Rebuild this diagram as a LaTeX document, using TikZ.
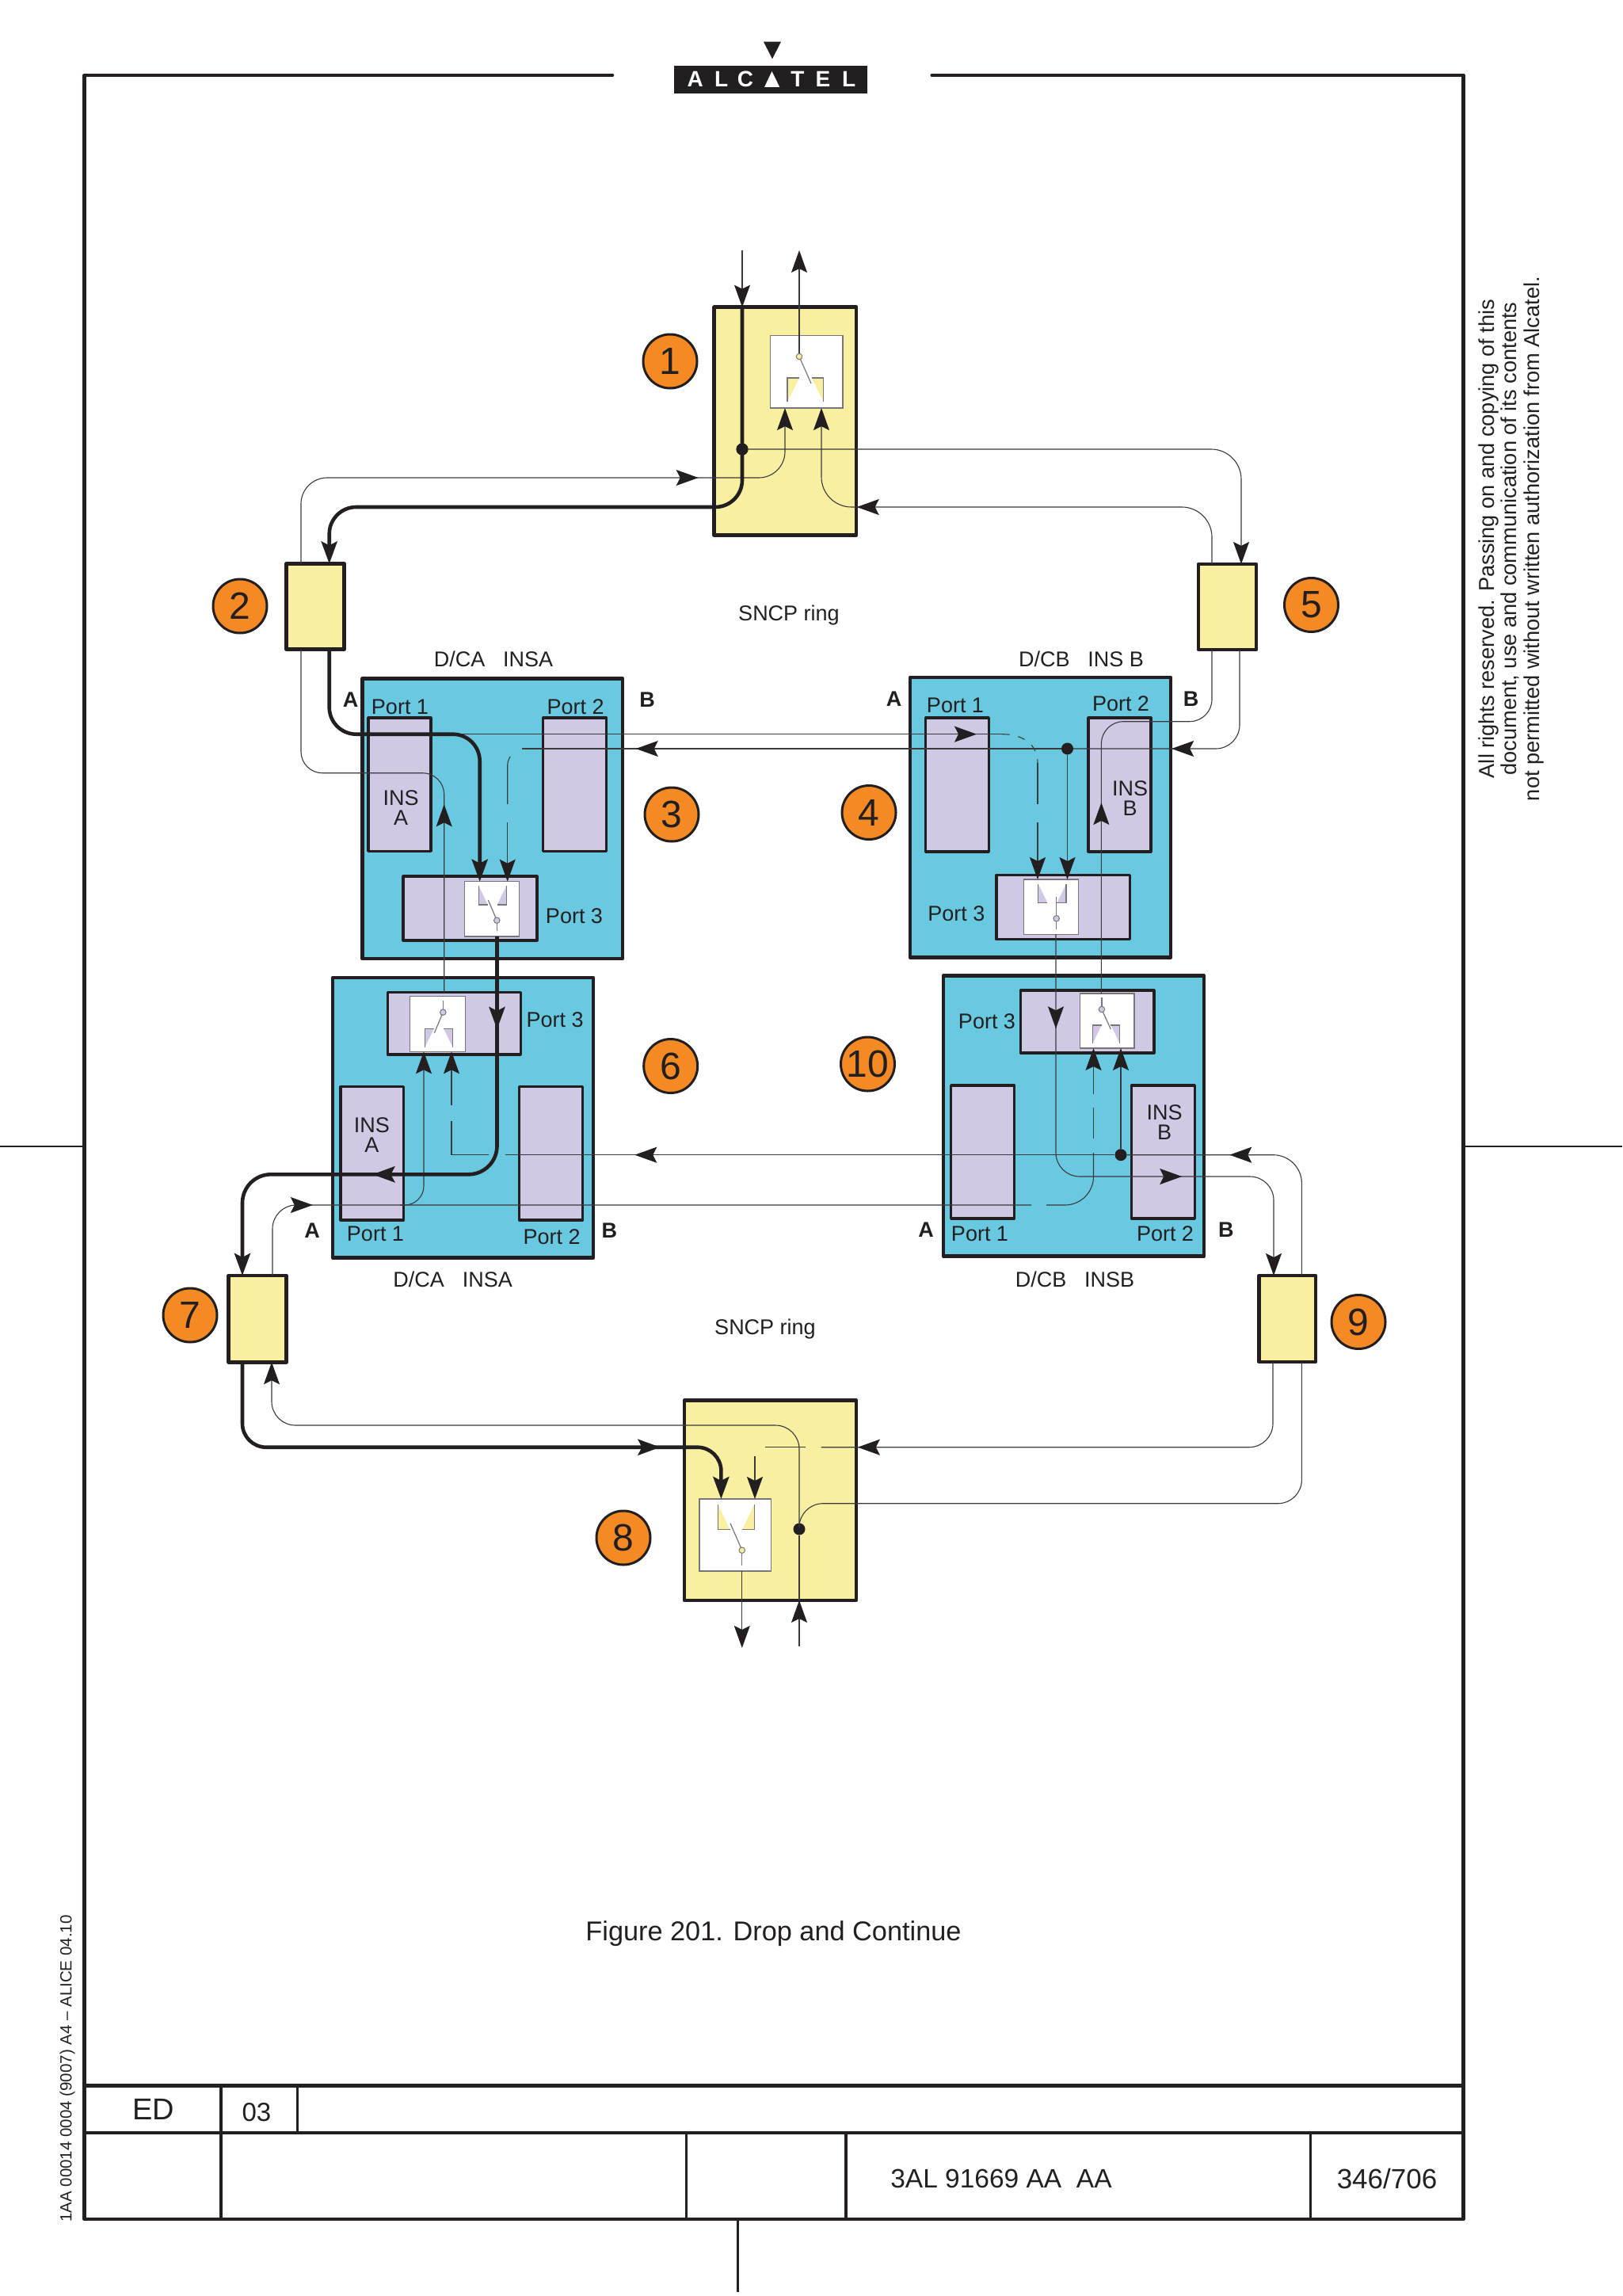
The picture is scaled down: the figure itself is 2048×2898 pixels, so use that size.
\documentclass[tikz,border=0pt]{standalone}
\usepackage{fontspec}
\setmainfont{Liberation Sans}
\usetikzlibrary{arrows.meta,decorations.markings}
\definecolor{ink}{HTML}{231F20}
\definecolor{wirec}{HTML}{3A3A3C}
\definecolor{pale}{HTML}{F8EFA0}
\definecolor{cyanb}{HTML}{68C9E1}
\definecolor{lilac}{HTML}{D0C8E4}
\definecolor{orng}{HTML}{F58A25}
\definecolor{gearg}{HTML}{77777A}
\newcommand\rbox[6]{\node[#1,minimum width=\fpeval{#5-#3}pt,minimum height=\fpeval{#6-#4}pt] (#2) at (\fpeval{(#3+#5)/2},\fpeval{(#4+#6)/2}) {};}
\newcommand\gear[5]{%
  \fill[#5] (#1,#3) -- (#1,#4) -- (\fpeval{#1+0.33*(#2-#1)},#3) -- cycle;
  \fill[#5] (#2,#3) -- (#2,#4) -- (\fpeval{#2-0.33*(#2-#1)},#3) -- cycle;
  \draw[gearline] (#1,#4) -- (#1,#3) -- (\fpeval{#1+0.33*(#2-#1)},#3);
  \draw[gearline] (#2,#4) -- (#2,#3) -- (\fpeval{#2-0.33*(#2-#1)},#3);}
\newcommand\swing[7]{%
  \draw[gearline] (#2,#3) -- (#2,#6);
  \draw[gearline] (#2,#3) -- (#4,#5);
  \node[pivot,fill=#7] (#1) at (#2,#3) {};}
\tikzset{
  >={Stealth[length=28pt,width=20pt,inset=5pt,color=ink]},
  basebox/.style={draw=ink,rectangle,inner sep=0pt,outer sep=0pt,line join=round},
  yelbox/.style={basebox,fill=pale,line width=4.5pt},
  cyanbox/.style={basebox,fill=cyanb,line width=4.5pt},
  portbox/.style={basebox,fill=lilac,line width=3.2pt},
  swbox/.style={rectangle,inner sep=0pt,outer sep=0pt,draw=gearg,fill=white,line width=1.2pt},
  gearline/.style={draw=gearg,line width=1.2pt},
  pivot/.style={circle,draw=gearg,line width=1pt,inner sep=0pt,minimum size=7.5pt},
  wire/.style={draw=wirec,line width=1.1pt},
  heavy/.style={draw=ink,line width=4.6pt},
  gapdash/.style={wire,dash pattern=on 9pt off 11pt},
  jdot/.style={circle,fill=ink,inner sep=0pt,minimum size=15pt},
  badge/.style={circle,draw=ink,fill=orng,line width=3pt,minimum size=68pt,inner sep=0pt,font=\fontsize{48}{48}\selectfont,text=ink},
  lbl/.style={inner sep=0pt,text=ink,yshift=-1.5pt,font=\fontsize{27}{27}\selectfont},
  ins/.style={lbl,align=center,font=\fontsize{27}{25}\selectfont},
  ab/.style={lbl,yshift=1pt,font=\fontsize{27}{27}\selectfont\bfseries},
  logoL/.style={inner sep=0pt,text=white,font=\fontsize{28}{28}\selectfont\bfseries},
  midtip/.style={postaction={decorate,decoration={markings,mark=at position #1 with {\arrow{>}}}}},
  frameline/.style={draw=ink,line width=4.6pt,line cap=round,line join=round},
  tbl/.style={draw=ink,line cap=butt}
}
\begin{document}
\begin{tikzpicture}[x=1pt,y=-1pt]
\useasboundingbox[fill=white] (0,0) rectangle (2048,2898);
% page frame
\draw[frameline] (773,95) -- (106.5,95) -- (106.5,2801) -- (1847.5,2801) -- (1847.5,95) -- (1176.7,95);
\draw[tbl,line width=5pt] (106.5,2632.3) -- (1847.5,2632.3);
\draw[tbl,line width=3.6pt] (106.5,2691.7) -- (1847.5,2691.7);
\draw[tbl,line width=4pt] (279.3,2632.3) -- (279.3,2801);
\draw[tbl,line width=2.6pt] (375.7,2632.3) -- (375.7,2691.7);
\draw[tbl,line width=2.6pt] (866.6,2691.7) -- (866.6,2801);
\draw[tbl,line width=4pt] (1068,2691.7) -- (1068,2801);
\draw[tbl,line width=3pt] (1654,2691.7) -- (1654,2801);
\draw[tbl,line width=2.6pt] (931.4,2801) -- (931.4,2893);
\draw[tbl,line width=2.6pt] (0,1447) -- (106.5,1447);
\draw[tbl,line width=2.6pt] (1847.5,1447) -- (2048,1447);
% logo
\fill[ink] (964,52.7) -- (986,52.7) -- (975,74.3) -- cycle;
\fill[ink] (850.7,82.7) rectangle (1095.3,117.7);
\node[logoL] (lA) at (877.7,100) {A};
\node[logoL] (lL) at (910.7,100) {L};
\node[logoL] (lC) at (941,100) {C};
\fill[white] (965,110) -- (984.3,110) -- (974.5,90) -- cycle;
\node[logoL] (lT) at (1007,100) {T};
\node[logoL] (lE) at (1039,100) {E};
\node[logoL] (lL2) at (1071.7,100) {L};
% boxes
\rbox{yelbox}{b1}{901.7}{387.7}{1081}{675.7}
\rbox{yelbox}{b2}{361.6}{711.5}{434.6}{819.6}
\rbox{yelbox}{b5}{1513}{712}{1586}{820}
\rbox{yelbox}{b7}{288.6}{1610}{361.5}{1719.3}
\rbox{yelbox}{b9}{1589.5}{1610}{1661}{1719}
\rbox{yelbox}{b8}{864}{1767.5}{1081}{2020}
\rbox{cyanbox}{b3}{457.3}{856.7}{786}{1210}
\rbox{cyanbox}{b4}{1149}{855}{1478}{1208.3}
\rbox{cyanbox}{b6}{420}{1234}{749}{1587.3}
\rbox{cyanbox}{b10}{1191}{1231.7}{1520}{1585.7}
\rbox{portbox}{p31}{465}{906}{544}{1074.3}
\rbox{portbox}{p32}{685.7}{906}{765.7}{1074.3}
\rbox{portbox}{p33}{509}{1106}{678}{1187}
\rbox{portbox}{p41}{1168.8}{906}{1248.4}{1075}
\rbox{portbox}{p42}{1374}{906}{1453}{1075}
\rbox{portbox}{p43}{1258}{1104.3}{1426.7}{1185.7}
\rbox{portbox}{p61}{430}{1371.7}{509.7}{1540}
\rbox{portbox}{p62}{655.7}{1371.7}{735.7}{1540}
\rbox{portbox}{p63}{489.3}{1252.3}{657.3}{1331}
\rbox{portbox}{p101}{1200.6}{1370}{1280.6}{1538}
\rbox{portbox}{p102}{1428.4}{1370}{1508.3}{1538}
\rbox{portbox}{p103}{1288.3}{1250}{1457}{1329}
% switches
\rbox{swbox}{s1}{972.7}{423.7}{1064}{515}
\rbox{swbox}{s3}{586.7}{1112.7}{655.7}{1182}
\rbox{swbox}{s4}{1292.8}{1110}{1361.7}{1179.3}
\rbox{swbox}{s6}{517.7}{1257.7}{587.7}{1327.3}
\rbox{swbox}{s10}{1363.3}{1254}{1432}{1323}
\rbox{swbox}{s8}{883}{1892}{973.5}{1983}
\gear{994}{1039.7}{477}{507}{pale}
\gear{604.3}{639.3}{1142}{1118}{lilac}
\gear{1310.8}{1346}{1139.3}{1116}{lilac}
\gear{536.3}{571.7}{1298.3}{1321.7}{lilac}
\gear{1379.4}{1413.8}{1294}{1317}{lilac}
\gear{906.4}{952.3}{1930.7}{1899}{pale}
\swing{pv3}{627.3}{1161.7}{616.3}{1136}{1175}{lilac}
\swing{pv4}{1333.7}{1159.3}{1333.7}{1131.7}{1173}{lilac}
\swing{pv6}{559.3}{1277.7}{548.3}{1304}{1263}{lilac}
\swing{pv10}{1390.9}{1274}{1402.3}{1299}{1259}{lilac}
\swing{pv8}{936.8}{1956.7}{922}{1922.7}{1976}{pale}
\draw[gearline] (1009,450) -- (1024,484);
\node[pivot,fill=pale] (pv1) at (1009,450) {};
% junction dots
\node[jdot] (dot1) at (937,567) {};
\node[jdot] (dot4) at (1347.5,945) {};
\node[jdot] (dot10) at (1415,1457.7) {};
\node[jdot] (dot8) at (1009,1930) {};
% free ends
\coordinate (in1) at (937,316);
\coordinate (out1) at (1009,316);
\coordinate (in8) at (1009,2078);
\coordinate (out8) at (936.8,2080);
% thin ring wires, top ring
\draw[wire,->] (in1) -- (in1 |- b1.north);
\draw[wire,->] (pv1) -- (out1);
\draw[wire,->,rounded corners=38] (dot1) -- (1567,567) -- (1567,0 |- b5.north);
\draw[wire,->,rounded corners=38,midtip=504pt] (1530,0 |- b5.north) -- (1530,640) -- (1037,640) -- (1037,0 |- s1.south);
\draw[wire,->,rounded corners=33,midtip=596pt] (380,0 |- b2.north) -- (380,603) -- (991,603) -- (991,0 |- s1.south);
% b3 / b6 left riser
\draw[wire,rounded corners=27,midtip=237pt] (560.7,0 |- p63.north) -- (560.7,975.7) -- (380,975.7) -- (380,0 |- b2.south);
% upper cross wire
\coordinate (h2j) at (575,926.7);
\coordinate (h2k) at (1265.6,926.7);
\draw[wire,midtip=658pt] (h2j) -- (h2k);
\draw[gapdash] (h2k) .. controls (1292,926.7) and (1310,940) .. (1310,963);
\draw[wire] (1310,963) -- (1310,1015);
\draw[wire,->] (1310,1038) -- (1310,0 |- s4.north);
% wire from box 5 to dot 4, then on to box 3
\draw[wire,rounded corners=30,midtip=198pt] (1565,0 |- b5.south) -- (1565,945) -- (dot4);
\draw[wire,->] (dot4) -- (dot4 |- s4.north);
\coordinate (w3e) at (659,945);
\draw[wire,midtip=537pt] (dot4) -- (w3e);
\draw[wire,rounded corners=6] (643.5,956) -- (640.7,960) -- (640.7,1015);
\draw[wire,->] (640.7,1038) -- (640.7,0 |- s3.north);
% INS B riser
\draw[wire,rounded corners=28,midtip=241pt] (1390.4,0 |- s10.north) -- (1390.4,910.7) -- (1530,910.7) -- (1530,0 |- b5.south);
% below switch 4
\draw[wire,->,rounded corners=30,midtip=119pt,midtip=452pt] (1333,0 |- s4.south) -- (1333,1485) -- (1608,1485) -- (1608,0 |- b9.north);
% box 9 to dot 10, on to box 6
\draw[wire,rounded corners=36,midtip=228pt] (1643.4,0 |- b9.north) -- (1643.4,1457.7) -- (dot10);
\draw[wire,->] (dot10) -- (dot10 |- s10.south);
\coordinate (w6e) at (638,1457.7);
\draw[wire,midtip=606pt] (dot10) -- (w6e);
\draw[wire] (616.7,1457.7) -- (570,1457.7) -- (570,1415);
\draw[wire,->] (570,1395) -- (570,0 |- s6.south);
% lower cross wire
\coordinate (w7e) at (1302,1521);
\draw[wire,rounded corners=30,midtip=127pt] (344,0 |- b7.north) -- (344,1521) -- (w7e);
\coordinate (w6j) at (505,1521);
\draw[wire,->,rounded corners=24] (w6j) -- (535,1521) -- (535,0 |- s6.south);
\draw[wire,rounded corners=36] (1321,1521) -- (1380.5,1521) -- (1380.5,1455);
\draw[wire] (1380.5,1437) -- (1380.5,1398);
\draw[wire,->] (1380.5,1380.7) -- (1380.5,0 |- s10.south);
% bottom ring
\draw[wire,rounded corners=30] (1643.4,0 |- b9.south) -- (1643.4,1897.7) -- (1009,1897.7) -- (dot8);
\draw[wire,->] (in8) -- (in8 |- b8.south);
\draw[wire] (in8 |- b8.south) -- (dot8);
\draw[wire,->,rounded corners=30] (dot8) -- (1009,1799) -- (343,1799) -- (343,0 |- b7.south);
\draw[wire,midtip=619pt,rounded corners=30] (1607,0 |- b9.south) -- (1607,1826.7) -- (1036.7,1826.7);
\draw[wire] (1016.6,1826.7) -- (966,1826.7);
\draw[wire,->] (953,1838) -- (953,0 |- s8.north);
\draw[wire,->] (936.8,0 |- s8.south) -- (out8);
% heavy path
\draw[heavy,->,rounded corners=34] (in1 |- b1.north) -- (937,640) -- (415.7,640) -- (415.7,0 |- b2.north);
\draw[heavy,->,rounded corners=34] (415.7,0 |- b2.south) -- (415.7,926.7) -- (605.7,926.7) -- (605.7,0 |- s3.north);
\draw[heavy,->,rounded corners=36,midtip=117pt,midtip=442pt] (627.5,0 |- s3.south) -- (627.5,1482.3) -- (306,1482.3) -- (306,0 |- b7.north);
\draw[heavy,->,rounded corners=30,midtip=622pt] (306,0 |- b7.south) -- (306,1826.7) -- (910.4,1826.7) -- (910.4,0 |- s8.north);
\node[jdot] at (dot1) {};
% badges
\node[badge] (n1) at (846,456) {1};
\node[badge] (n2) at (303,765) {2};
\node[badge] (n3) at (848,1028) {3};
\node[badge] (n4) at (1097,1025.5) {4};
\node[badge] (n5) at (1655.5,763.5) {5};
\node[badge] (n6) at (846.7,1345.5) {6};
\node[badge] (n10) at (1095.5,1343) {10};
\node[badge] (n7) at (240,1660) {7};
\node[badge] (n8) at (787,1941) {8};
\node[badge] (n9) at (1715,1668.5) {9};
% labels
\node[lbl] (r1) at (996,775) {SNCP ring};
\node[lbl] (r2) at (966,1676) {SNCP ring};
\node[lbl] (c3) at (623,830) {D/CA\hspace{0.85em}INSA};
\node[lbl] (c4) at (1365,830) {D/CB\hspace{0.85em}INS B};
\node[lbl] (c6) at (571.7,1613.5) {D/CA\hspace{0.85em}INSA};
\node[lbl] (c10) at (1357,1613.5) {D/CB\hspace{0.85em}INSB};
\node[ab] (a3) at (442.7,882.7) {A};
\node[ab] (e3) at (817,882.7) {B};
\node[ab] (a4) at (1128.6,882) {A};
\node[ab] (e4) at (1503.6,882) {B};
\node[ab] (a6) at (394,1552.3) {A};
\node[ab] (e6) at (769.3,1552.3) {B};
\node[ab] (a10) at (1169,1551.7) {A};
\node[ab] (e10) at (1547.8,1551.7) {B};
\node[lbl] (t31) at (505,890.7) {Port 1};
\node[lbl] (t32) at (726.7,890.7) {Port 2};
\node[lbl] (t33) at (725,1155) {Port 3};
\node[lbl] (t41) at (1206,889) {Port 1};
\node[lbl] (t42) at (1415,886.7) {Port 2};
\node[lbl] (t43) at (1207.4,1152) {Port 3};
\node[lbl] (t61) at (474,1555.7) {Port 1};
\node[lbl] (t62) at (696.7,1559.3) {Port 2};
\node[lbl] (t63) at (700.7,1286) {Port 3};
\node[lbl] (t101) at (1237,1555.7) {Port 1};
\node[lbl] (t102) at (1471,1555.7) {Port 2};
\node[lbl] (t103) at (1246,1288) {Port 3};
\node[ins] (i3) at (506,1018) {INS\\A};
\node[ins] (i4) at (1426.7,1006) {INS\\B};
\node[ins] (i6) at (469.3,1431) {INS\\A};
\node[ins] (i10) at (1470,1415.5) {INS\\B};
% page text
\node[lbl,font=\fontsize{34.3}{34.3}\selectfont] (fig) at (976.5,2439) {Figure 201. Drop and Continue};
\node[lbl,font=\fontsize{38}{38}\selectfont] (ed) at (193.7,2661.2) {ED};
\node[lbl,font=\fontsize{33}{33}\selectfont] (rev) at (324,2664.2) {03};
\node[lbl,font=\fontsize{33.5}{33.5}\selectfont] (docno) at (1264,2748.5) {3AL 91669 AA\hspace{0.556em}AA};
\node[lbl,font=\fontsize{35}{35}\selectfont] (pg) at (1751,2748.5) {346/706};
\node[inner sep=0pt,text=ink,rotate=90,align=center,font=\fontsize{27.2}{28.5}\selectfont] (legal) at (1907.5,680) {All rights reserved. Passing on and copying of this\\document, use and communication of its contents\\not permitted without written authorization from Alcatel.};
\node[inner sep=0pt,text=ink,rotate=90,font=\fontsize{20.5}{20.5}\selectfont] (ref) at (85,2611) {1AA 00014 0004 (9007) A4 – ALICE 04.10};
\end{tikzpicture}
\end{document}
